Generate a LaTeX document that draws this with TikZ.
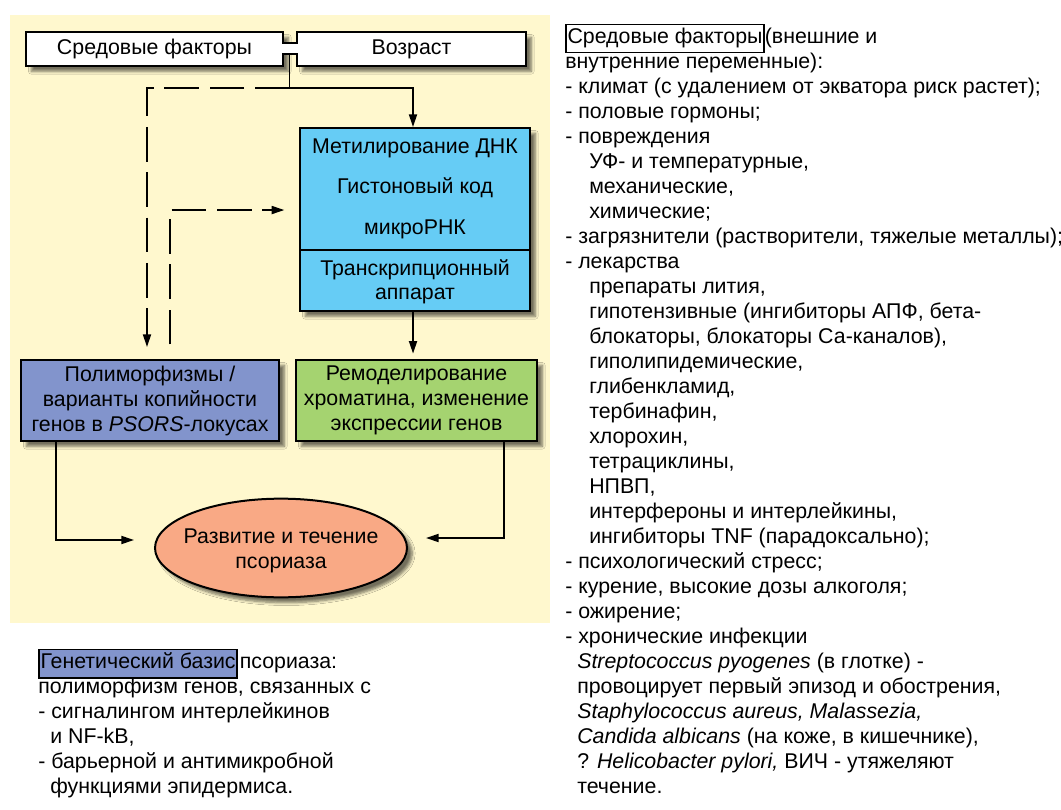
\documentclass[tikz,border=0pt]{standalone}
\usepackage{fontspec}
\setmainfont{Liberation Sans}
\usetikzlibrary{arrows.meta,shadows.blur,shapes.geometric}
\definecolor{panel}{RGB}{255,248,206}
\definecolor{bluebox}{RGB}{102,204,245}
\definecolor{purplebox}{RGB}{130,148,204}
\definecolor{greenbox}{RGB}{165,211,112}
\definecolor{salmon}{RGB}{249,169,133}
\setlength{\fboxsep}{0.6pt}
\setlength{\fboxrule}{1.1pt}
\begin{document}
\begin{tikzpicture}[x=0.75pt,y=-0.75pt,
  txt/.style={font=\fontsize{16}{18.75}\selectfont, inner sep=0pt},
  box/.style={draw=black, line width=1.5pt, inner sep=0pt, align=center,
    font=\fontsize{16}{18.75}\selectfont,
    blur shadow={shadow xshift=4pt, shadow yshift=-4pt, shadow blur steps=6, shadow opacity=55}},
  conn/.style={line width=1.4pt, -{Triangle[length=9.5pt,width=6pt]}},
  plain/.style={line width=1.4pt},
  dashline/.style={line width=1.4pt, dash pattern=on 26pt off 8pt},
]
\useasboundingbox (0,0) rectangle (1061,810);
\fill[panel] (10,15) rectangle (550,623);

% top boxes
\node[box, fill=white, minimum width=192.75pt, minimum height=25.5pt] (env) at (154.5,49) {Средовые факторы};
\node[box, fill=white, minimum width=171.75pt, minimum height=25.5pt] (age) at (411.5,49) {Возраст};
\fill[white] (281.8,43.6) rectangle (297.8,53.4);
\draw[line width=1.5pt] (env.east |- 0,43) -- (age.west |- 0,43);
\draw[line width=1.5pt] (env.east |- 0,54) -- (age.west |- 0,54);
\coordinate (neck) at (289.5,54);
\coordinate (J) at (289.5,88);

% blue box
\node[box, fill=bluebox, minimum width=172.5pt, minimum height=137.25pt] (blue) at (415,219.5) {};
\draw[line width=1pt] (blue.west |- 0,250) -- (blue.east |- 0,250);
\node[txt] (b1) at (415,148) {Метилирование ДНК};
\node[txt] (b2) at (415,188) {Гистоновый код};
\node[txt] (b3) at (415,229) {микроРНК};
\node[txt] (b4) at (415,270) {Транскрипционный};
\node[txt] (b5) at (415,296) {аппарат};

% lower boxes
\node[box, fill=purplebox, minimum width=193.5pt, minimum height=60.75pt] (poly) at (150,400.5)
  {Полиморфизмы /\\варианты копийности\\генов в \textit{PSORS}-локусах};
\node[box, fill=greenbox, minimum width=180.75pt, minimum height=60.75pt] (green) at (416.5,400.5)
  {Ремоделирование\\хроматина, изменение\\экспрессии генов};
\node[box, ellipse, fill=salmon, minimum width=189pt, minimum height=74pt] (ell) at (281,548) {};
\node[txt, align=center] (elltext) at (281,551) {Развитие и течение\\псориаза};

% connectors
\draw[plain] (neck) -- (J);
\draw[conn] (J) -| ([xshift=-1.5pt]blue.north);
\draw[dashline, -{Triangle[length=9.5pt,width=6pt]}, shorten >=9pt] (J) -| ([xshift=-2.25pt]poly.north);
\draw[dashline, -{Triangle[length=9.5pt,width=6pt]}, shorten <=11pt, shorten >=11pt] ([xshift=15pt]poly.north) |- ([yshift=7.1pt]blue.west);
\draw[conn, shorten >=4pt] ([xshift=-1.5pt]blue.south) -- ([xshift=-2.6pt]green.north);
\draw[conn, shorten >=15pt] ([xshift=-70.5pt]poly.south) |- ([yshift=6pt]ell.west);
\draw[conn, shorten >=13.5pt] ([xshift=65.6pt]green.south) |- ([yshift=7.5pt]ell.east);

% right column
\node[txt, anchor=north west, align=left] (envtext) at (565,25.5) {%
\strut\smash{\fcolorbox{black}{white}{\strut Средовые факторы}}(внешние и\\
внутренние переменные):\\
- климат (с удалением от экватора риск растет);\\
- половые гормоны;\\
- повреждения\\
\hspace*{18pt}УФ- и температурные,\\
\hspace*{18pt}механические,\\
\hspace*{18pt}химические;\\
- загрязнители (растворители, тяжелые металлы);\\
- лекарства\\
\hspace*{18pt}препараты лития,\\
\hspace*{18pt}гипотензивные (ингибиторы АПФ, бета-\\
\hspace*{18pt}блокаторы, блокаторы Са-каналов),\\
\hspace*{18pt}гиполипидемические,\\
\hspace*{18pt}глибенкламид,\\
\hspace*{18pt}тербинафин,\\
\hspace*{18pt}хлорохин,\\
\hspace*{18pt}тетрациклины,\\
\hspace*{18pt}НПВП,\\
\hspace*{18pt}интерфероны и интерлейкины,\\
\hspace*{18pt}ингибиторы TNF (парадоксально);\\
- психологический стресс;\\
- курение, высокие дозы алкоголя;\\
- ожирение;\\
- хронические инфекции\\
\hspace*{9pt}\textit{Streptococcus pyogenes} (в глотке) -\\
\hspace*{9pt}провоцирует первый эпизод и обострения,\\
\hspace*{9pt}\textit{Staphylococcus aureus, Malassezia,}\\
\hspace*{9pt}\textit{Candida albicans} (на коже, в кишечнике),\\
\hspace*{9pt}? \textit{Helicobacter pylori,} ВИЧ - утяжеляют\\
\hspace*{9pt}течение.};

% bottom left
\node[txt, anchor=north west, align=left] (gentext) at (38,651) {%
\strut\smash{\fcolorbox{black}{purplebox}{\strut Генетический базис}}\hspace{1.5pt}псориаза:\\
полиморфизм генов, связанных с\\
- сигналингом интерлейкинов\\
\hspace*{9pt}и NF-kB,\\
- барьерной и антимикробной\\
\hspace*{9pt}функциями эпидермиса.};
\end{tikzpicture}
\end{document}
